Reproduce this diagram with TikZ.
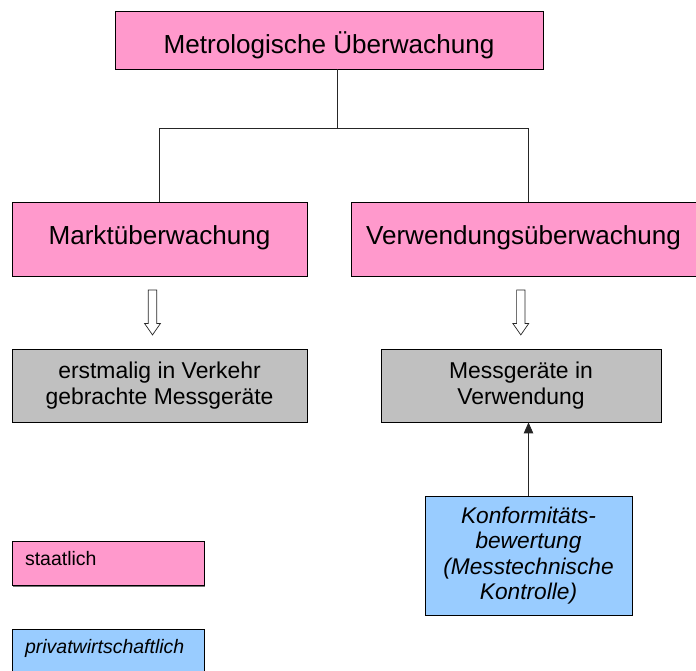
\documentclass[tikz,border=0pt]{standalone}
\usepackage{fontspec}
\setmainfont{Liberation Sans}
\usetikzlibrary{arrows.meta,calc,shadows}
\definecolor{rosa}{HTML}{FF99CC}
\definecolor{grau}{HTML}{C0C0C0}
\definecolor{hellblau}{HTML}{99CCFF}
\begin{document}
\begin{tikzpicture}[x=1pt,y=-1pt,
  box/.style={draw=black, line width=0.8pt, inner sep=0pt,
    drop shadow={shadow xshift=1.4pt, shadow yshift=-1.4pt, fill=black!55, opacity=1}},
  staat/.style={box, fill=rosa},
  grey/.style={box, fill=grau, align=center, font=\fontsize{22.9}{26}\selectfont},
  privat/.style={box, fill=hellblau, align=center, font=\fontsize{22.7}{25.3}\selectfont\itshape},
  legend/.style={box, minimum width=192, minimum height=44, text width=166, inner xsep=13pt,
    align=left, text height=14, text depth=10, font=\fontsize{19.5}{22}\selectfont},
  link/.style={draw=black!85, line width=0.8pt},
  hollow/.style={draw=black!85, line width=0.7pt, fill=white, line join=miter}]
\useasboundingbox (0,0) rectangle (696,671);

% hierarchy of surveillance
\node[staat, minimum width=428, minimum height=58, text height=26.6, text depth=0,
  font=\fontsize{26.1}{30}\selectfont] (top) at (329,40) {Metrologische Überwachung};
\node[staat, minimum width=295, minimum height=74, text height=19, text depth=8.4,
  font=\fontsize{26.1}{30}\selectfont] (markt) at (159.5,239) {Marktüberwachung};
\node[staat, minimum width=345, minimum height=74, text height=19, text depth=7.4,
  font=\fontsize{26.1}{30}\selectfont] (verw) at (523.5,239) {Verwendungsüberwachung};

% measuring instruments
\node[grey, minimum width=295, minimum height=73] (neu) at (159.5,385.5)
  {erstmalig in Verkehr\\gebrachte Messgeräte};
\node[grey, minimum width=280, minimum height=73] (inuse) at (521,385.5)
  {Messgeräte in\\Verwendung};

% conformity assessment
\node[privat, minimum width=207, minimum height=119] (konf) at (528.5,555.5)
  {Konformitäts-\\bewertung\\(Messtechnische\\Kontrolle)};

% legend
\node[legend, staat] (lstaat) at (108,563.3) {staatlich};
\node[legend, fill=hellblau, font=\fontsize{19.5}{22}\selectfont\itshape] (lprivat) at (108,651)
  {privatwirtschaftlich};

% tree connectors
\coordinate (j) at ($(top.south)+(8,59)$);
\draw[link] ($(top.south)+(8,0)$) -- (j);
\draw[link] (markt.north) |- (j) -| ($(verw.north)+(4.5,0)$);

% hollow arrows
\coordinate (a1) at ($(markt.south)+(-7,13.5)$);
\coordinate (a2) at ($(verw.south)+(-2.7,13.5)$);
\foreach \a in {a1,a2}{
  \draw[hollow] (\a) ++(-4.2,0) -- ++(0,33.5) -- ++(-3.8,0) -- ++(8,11.5)
    -- ++(8,-11.5) -- ++(-3.8,0) -- ++(0,-33.5) -- cycle;
}

% assessment feeds instruments in use
\draw[link, line width=0.9pt, -{Triangle[width=9.5pt,length=11pt]}]
  (konf.north) -- (konf.north |- inuse.south);
\end{tikzpicture}
\end{document}
